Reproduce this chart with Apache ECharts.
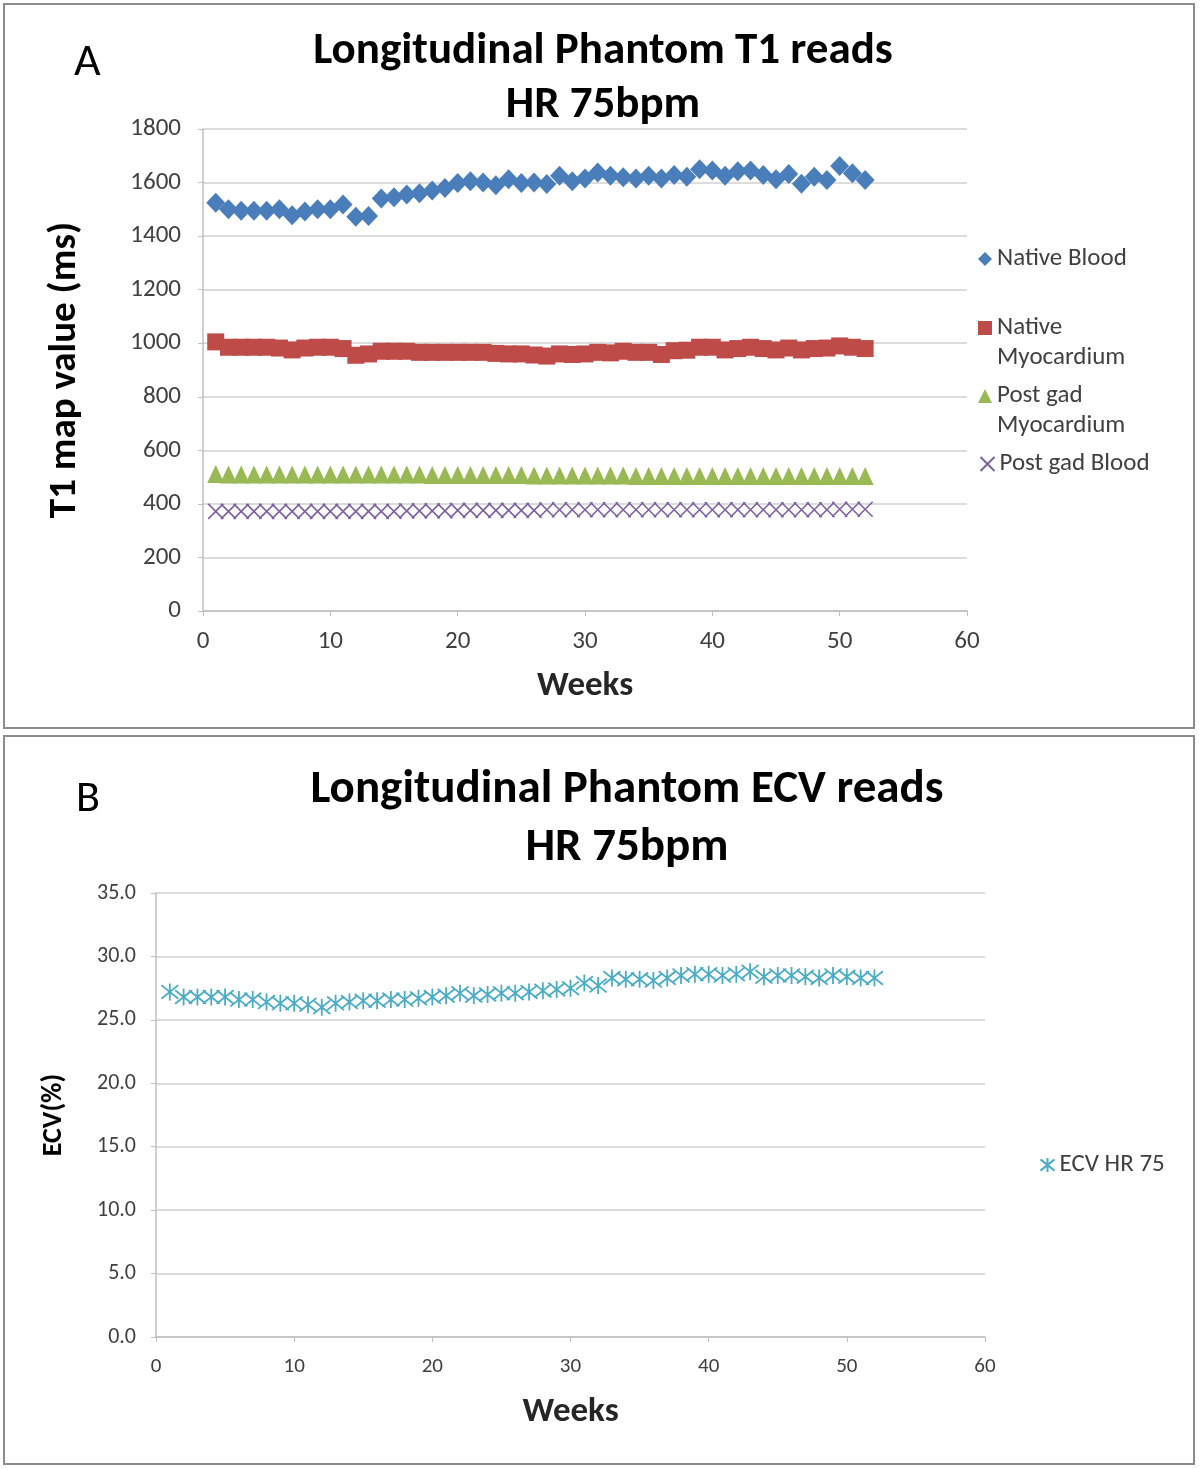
<!DOCTYPE html>
<html><head><meta charset="utf-8">
<script src="https://cdn.jsdelivr.net/npm/echarts@6/dist/echarts.min.js"></script>
<style>html,body{margin:0;padding:0;background:#fff}#c{width:1200px;height:1468px}</style>
</head><body><div id="c"></div>
<script>
const weeks = [1,2,3,4,5,6,7,8,9,10,11,12,13,14,15,16,17,18,19,20,21,22,23,24,25,26,27,28,29,30,31,32,33,34,35,36,37,38,39,40,41,42,43,44,45,46,47,48,49,50,51,52];
const nativeBlood = [1525,1500,1495,1495,1495,1500,1478,1492,1500,1500,1518,1472,1475,1540,1545,1555,1560,1570,1580,1598,1605,1600,1590,1612,1598,1600,1595,1625,1605,1615,1638,1625,1620,1615,1625,1615,1628,1622,1650,1645,1625,1642,1645,1628,1612,1632,1596,1622,1610,1662,1635,1610];
const nativeMyo = [1005,985,985,985,985,982,975,982,985,985,980,955,960,970,970,970,966,966,966,966,966,966,962,960,960,956,952,960,958,960,966,964,970,966,966,958,972,974,985,985,975,980,985,980,975,982,975,980,982,990,985,980];
const postGadMyo = [512,510,510,510,510,510,510,510,510,510,510,510,510,510,510,510,510,508,508,508,508,508,508,508,508,506,506,506,506,506,506,506,506,504,504,504,504,504,504,504,504,504,504,504,504,504,504,504,504,504,504,504];
const postGadBlood = [372,372,372,372,372,372,372,372,372,372,372,372,372,372,372,374,374,374,374,376,376,376,376,376,376,376,378,378,378,378,378,378,378,378,378,378,378,378,378,378,378,378,378,378,378,378,378,378,378,380,380,380];
const ecv = [27.2,26.8,26.8,26.8,26.8,26.6,26.6,26.4,26.3,26.3,26.2,26.0,26.3,26.4,26.5,26.5,26.6,26.6,26.7,26.8,26.9,27.1,26.9,27.0,27.1,27.1,27.2,27.3,27.4,27.5,27.9,27.7,28.3,28.2,28.2,28.1,28.3,28.5,28.6,28.6,28.5,28.6,28.8,28.4,28.5,28.5,28.4,28.3,28.5,28.4,28.3,28.3];
const t1Ticks = {min:0, max:1800, interval:200};
const ecvTicks = {min:0, max:35, interval:5};
const weekTicks = {min:0, max:60, interval:10};

const FONT = 'Carlito, Lato, "Open Sans", sans-serif';
const pair = (ys) => weeks.map((w,i)=>[w, ys[i]]);
const chart = echarts.init(document.getElementById('c'), null, {renderer:'canvas'});

function xAx(gi, lsize, lmargin, gap){
  return {gridIndex:gi, type:'value', min:weekTicks.min, max:weekTicks.max, interval:weekTicks.interval,
    name:'Weeks', nameLocation:'middle', nameGap:gap,
    nameTextStyle:{fontFamily:FONT, fontWeight:'bold', fontSize:35, color:'#262626'},
    axisLine:{show:true, onZero:false, lineStyle:{color:'#bfbfbf', width:1.5}},
    axisTick:{show:true, length:5, lineStyle:{color:'#bfbfbf'}},
    splitLine:{show:false},
    axisLabel:{fontFamily:FONT, fontSize:lsize, color:'#404040', margin:lmargin}};
}
function yAx(gi, t, name, gap, nsize, lsize, lmargin, fmt){
  return {gridIndex:gi, type:'value', min:t.min, max:t.max, interval:t.interval,
    name:name, nameLocation:'middle', nameGap:gap,
    nameTextStyle:{fontFamily:FONT, fontWeight:'bold', fontSize:nsize, color:'#000'},
    axisLine:{show:true, lineStyle:{color:'#bfbfbf', width:1.5}},
    axisTick:{show:true, length:5, lineStyle:{color:'#bfbfbf'}},
    splitLine:{show:true, lineStyle:{color:'#d0d0d0', width:1.5}},
    axisLabel:{fontFamily:FONT, fontSize:lsize, color:'#404040', margin:lmargin, formatter:fmt}};
}
const legText = {fontFamily:FONT, fontSize:25, color:'#404040', lineHeight:30};
function leg(name, left, top, fmt){
  const l = {data:[name], orient:'vertical', left:left, top:top, padding:0, itemWidth:14, itemHeight:14, itemGap:0, textStyle:legText, selectedMode:false};
  if (fmt) l.formatter = fmt;
  return l;
}

const option = {
  backgroundColor:'#fff',
  animation:false,
  graphic:[
    {type:'rect', shape:{x:4, y:4, width:1190, height:724}, style:{fill:'none', stroke:'#8c8c8c', lineWidth:2}},
    {type:'rect', shape:{x:4, y:736, width:1190, height:728}, style:{fill:'none', stroke:'#8c8c8c', lineWidth:2}},
    {type:'text', left:74, top:40, style:{text:'A', font:'46px '+FONT, fill:'#000'}},
    {type:'text', left:76, top:778, style:{text:'B', font:'44px '+FONT, fill:'#000'}}
  ],
  title:[
    {text:'Longitudinal Phantom T1 reads\nHR 75bpm', left:598, top:20, textAlign:'center',
     textStyle:{fontFamily:FONT, fontWeight:'bold', fontSize:45, lineHeight:54, color:'#000'}},
    {text:'Longitudinal Phantom ECV reads\nHR 75bpm', left:622, top:756, textAlign:'center',
     textStyle:{fontFamily:FONT, fontWeight:'bold', fontSize:47, lineHeight:58, color:'#000'}}
  ],
  grid:[
    {left:203, top:129, width:764, height:482, containLabel:false},
    {left:156, top:893, width:829, height:444, containLabel:false}
  ],
  xAxis:[xAx(0, 25, 18, 58), xAx(1, 21, 19, 58)],
  yAxis:[
    yAx(0, t1Ticks, 'T1 map value (ms)', 118, 39, 25, 22, v=>String(v)),
    yAx(1, ecvTicks, 'ECV(%)', 88, 28, 22, 20, v=>v.toFixed(1))
  ],
  legend:[
    leg('Native Blood', 978, 244),
    leg('Native Myocardium', 978, 283, ()=>'\u00a0\nNative\nMyocardium'),
    leg('Post gad Myocardium', 978, 351, ()=>'\u00a0\nPost gad\nMyocardium'),
    leg('Post gad Blood', 978, 449),
    leg('ECV HR 75', 1038, 1150)
  ],
  series:[
    {name:'Native Blood', type:'scatter', xAxisIndex:0, yAxisIndex:0, data:pair(nativeBlood),
     symbol:'diamond', symbolSize:[19,20], itemStyle:{color:'#4a7ebb', opacity:1}},
    {name:'Native Myocardium', type:'scatter', xAxisIndex:0, yAxisIndex:0, data:pair(nativeMyo),
     symbol:'rect', symbolSize:17, itemStyle:{color:'#be4b48', opacity:1}},
    {name:'Post gad Myocardium', type:'scatter', xAxisIndex:0, yAxisIndex:0, data:pair(postGadMyo),
     symbol:'triangle', symbolSize:[17,18], itemStyle:{color:'#98b954', opacity:1}},
    {name:'Post gad Blood', type:'scatter', xAxisIndex:0, yAxisIndex:0, data:pair(postGadBlood),
     symbol:'path://M0,0L10,10M10,0L0,10', symbolSize:15, itemStyle:{color:'none', borderColor:'#7d60a0', borderWidth:1.6, opacity:1}},
    {name:'ECV HR 75', type:'scatter', xAxisIndex:1, yAxisIndex:1, data:pair(ecv),
     symbol:'path://M0,1L10,9M10,1L0,9M5,0L5,10', symbolSize:17, itemStyle:{color:'none', borderColor:'#4bacc6', borderWidth:1.8, opacity:1}}
  ]
};
chart.setOption(option);
</script>
</body></html>
